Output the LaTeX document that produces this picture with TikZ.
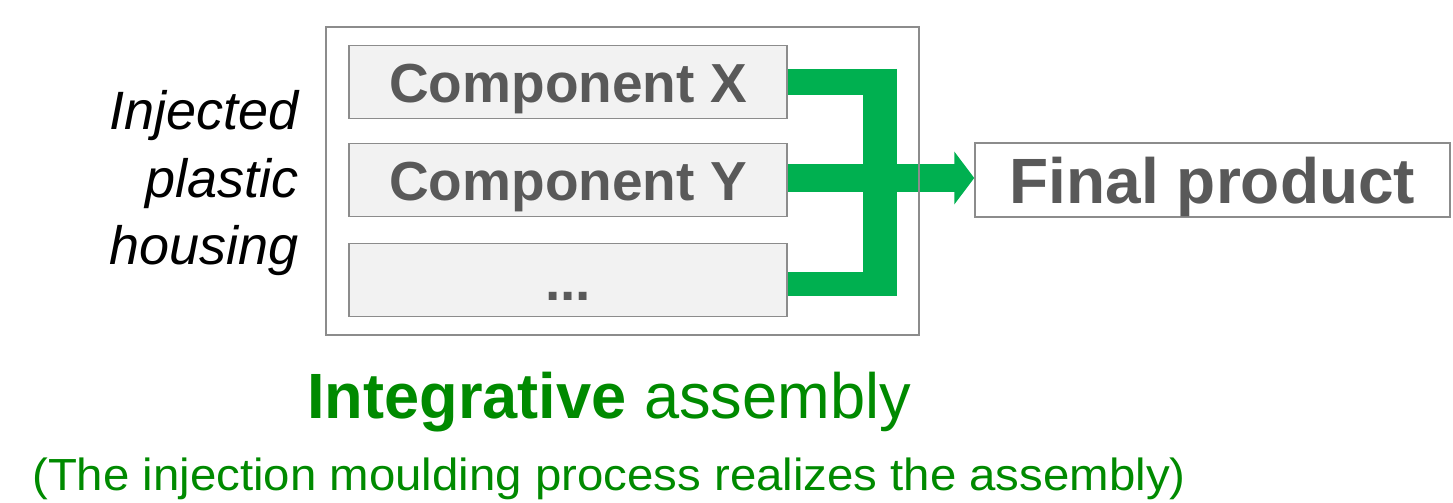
\documentclass[tikz,border=0pt]{standalone}
\usepackage{fontspec}
\setmainfont{Liberation Sans}
\usetikzlibrary{arrows.meta}
\definecolor{boxfill}{HTML}{F2F2F2}
\definecolor{boxdraw}{HTML}{8C8C8C}
\definecolor{txtgray}{HTML}{595959}
\definecolor{linkgreen}{HTML}{00B050}
\definecolor{txtgreen}{HTML}{008A00}
\tikzset{
  comp/.style={draw=boxdraw, line width=1.5pt, fill=boxfill, minimum width=438pt, minimum height=73pt, inner sep=0pt,
    font=\fontsize{55pt}{60pt}\selectfont\bfseries, text=txtgray, text height=40pt, text depth=0pt},
  outerbox/.style={draw=boxdraw, line width=1.5pt, minimum width=593pt, minimum height=308pt, inner sep=0pt},
  finalbox/.style={draw=boxdraw, line width=1.5pt, fill=white, minimum width=475pt, minimum height=74pt, inner sep=0pt,
    font=\fontsize{64pt}{70pt}\selectfont\bfseries, text=txtgray, text height=46pt, text depth=0pt},
  link/.style={draw=linkgreen, line width=26pt},
  sidetext/.style={anchor=base east, inner sep=0pt, font=\fontsize{54pt}{60pt}\selectfont\itshape},
}
\begin{document}
\begin{tikzpicture}[x=1pt,y=-1pt]
\useasboundingbox (0,0) rectangle (1453,503);
\node[comp] (X) at (568,82) {Component X};
\node[comp] (Y) at (568,180) {Component Y};
\node[comp] (E) at (568,280) {...};
\node[finalbox] (final) at (1212.5,180) {Final product};
\coordinate (btop) at (880,69);
\coordinate (bbot) at (880,296);
\draw[link] (X.east |- 0,82) -- (880,82);
\draw[link, line width=24pt] (E.east |- 0,284) -- (880,284);
\draw[link, line width=34pt] (btop) -- (bbot);
\draw[link, line width=28pt, -{Triangle[width=52pt,length=20pt]}] (Y.east |- 0,178) -- (final.west |- 0,178);
\node[outerbox] (outer) at (622.5,181) {};
\node[sidetext] (inj1) at (299,129) {Injected};
\node[sidetext] (inj2) at (299,197) {plastic};
\node[sidetext] (inj3) at (299,264) {housing};
\node[anchor=base, inner sep=0pt, text=txtgreen] (title) at (609,418)
  {\scalebox{0.987}[1]{\fontsize{64pt}{70pt}\selectfont\textbf{Integrative} assembly}};
\node[anchor=base, inner sep=0pt, text=txtgreen] (sub) at (609,490)
  {\scalebox{1.053}[1]{\fontsize{45pt}{50pt}\selectfont (The injection moulding process realizes the assembly)}};
\end{tikzpicture}
\end{document}
